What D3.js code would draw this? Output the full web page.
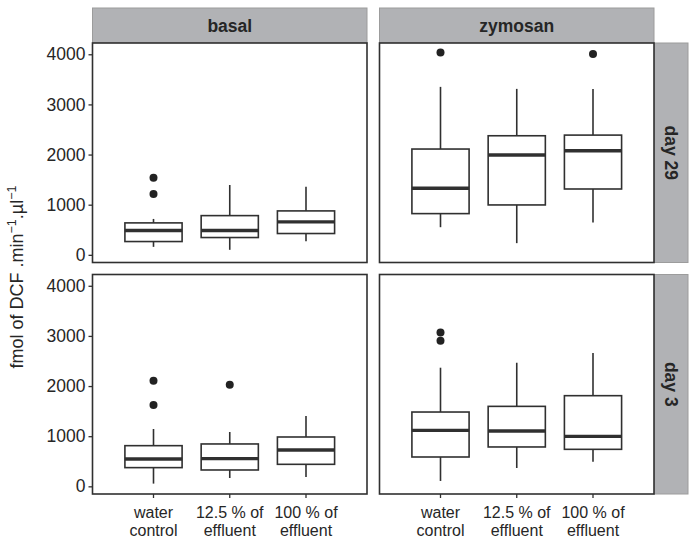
<!DOCTYPE html>
<html><head><meta charset="utf-8">
<script src="https://cdn.jsdelivr.net/npm/d3@7"></script>
<style>body{margin:0;background:#fff;} svg{display:block;font-family:"Liberation Sans",Arial,sans-serif;}</style>
</head><body>
<svg id="c" width="691" height="541"></svg>
<script>
const categories = ["water control", "12.5 % of effluent", "100 % of effluent"];
const catLines = [["water", "control"], ["12.5 % of", "effluent"], ["100 % of", "effluent"]];
const treatments = ["basal", "zymosan"];
const days = ["day 29", "day 3"];
const yTicks = [0, 1000, 2000, 3000, 4000];
// box stats per panel: [lowerWhisker, Q1, median, Q3, upperWhisker]
const basalDay29 = [[159, 265, 484, 637, 716], [100, 345, 484, 782, 1393], [272, 425, 657, 876, 1360]];
const basalDay29Out = [[1539, 1214], [], []];
const zymosanDay29 = [[551, 822, 1327, 2110, 3350], [233, 995, 1990, 2375, 3310], [643, 1313, 2076, 2388, 3310]];
const zymosanDay29Out = [[4034], [], [4006]];
const basalDay3 = [[54, 373, 546, 811, 1144], [166, 326, 552, 845, 1084], [186, 439, 725, 984, 1403]];
const basalDay3Out = [[2107, 1622], [2027], []];
const zymosanDay3 = [[107, 585, 1117, 1482, 2366], [366, 785, 1104, 1595, 2465], [492, 738, 997, 1808, 2658]];
const zymosanDay3Out = [[3070, 2904], [], []];

const panels = [
  {row: 0, col: 0, stats: basalDay29, out: basalDay29Out},
  {row: 0, col: 1, stats: zymosanDay29, out: zymosanDay29Out},
  {row: 1, col: 0, stats: basalDay3, out: basalDay3Out},
  {row: 1, col: 1, stats: zymosanDay3, out: zymosanDay3Out}
];

const svg = d3.select("#c");
const colX = [92.5, 379.5], panelW = 274.5;
const rowY = [43, 274.5], panelH = 219.5;
const stripTop = 8, stripR = 34;
const ink = "#303030", txt = "#262626";
const fs = 17.5;

const y = d3.scaleLinear().domain([-153, 4225]);
const x = d3.scaleBand().domain(categories).paddingInner(0.25).paddingOuter(0.425);

// top strips
treatments.forEach((t, i) => {
  svg.append("rect").attr("x", colX[i]).attr("y", stripTop).attr("width", panelW).attr("height", rowY[0] - stripTop)
    .attr("fill", "#b1b2b5").attr("stroke", "#9c9c9c").attr("stroke-width", 1);
  svg.append("text").attr("x", colX[i] + panelW / 2).attr("y", stripTop + (rowY[0] - stripTop) / 2 + 6)
    .attr("text-anchor", "middle").attr("font-size", fs).attr("font-weight", "bold").attr("fill", txt).text(t);
});
// right strips
days.forEach((d, i) => {
  const sx = colX[1] + panelW;
  svg.append("rect").attr("x", sx).attr("y", rowY[i]).attr("width", stripR).attr("height", panelH)
    .attr("fill", "#b1b2b5").attr("stroke", "#9c9c9c").attr("stroke-width", 1);
  svg.append("text").attr("transform", `translate(${sx + stripR / 2 - 6},${rowY[i] + panelH / 2}) rotate(90)`)
    .attr("text-anchor", "middle").attr("font-size", fs).attr("font-weight", "bold").attr("fill", txt).text(d);
});

panels.forEach(p => {
  const g = svg.append("g").attr("transform", `translate(${colX[p.col]},${rowY[p.row]})`);
  const ys = y.copy().range([panelH, 0]);
  const xs = x.copy().range([0, panelW]);
  g.append("rect").attr("width", panelW).attr("height", panelH).attr("fill", "#fff");
  categories.forEach((c, i) => {
    const s = p.stats[i];
    const cx = xs(c) + xs.bandwidth() / 2;
    g.append("line").attr("x1", cx).attr("x2", cx).attr("y1", ys(s[0])).attr("y2", ys(s[1]))
      .attr("stroke", ink).attr("stroke-width", 1.6);
    g.append("line").attr("x1", cx).attr("x2", cx).attr("y1", ys(s[3])).attr("y2", ys(s[4]))
      .attr("stroke", ink).attr("stroke-width", 1.6);
    g.append("rect").attr("x", xs(c)).attr("width", xs.bandwidth()).attr("y", ys(s[3])).attr("height", ys(s[1]) - ys(s[3]))
      .attr("fill", "#fff").attr("stroke", ink).attr("stroke-width", 1.6);
    g.append("line").attr("x1", xs(c)).attr("x2", xs(c) + xs.bandwidth()).attr("y1", ys(s[2])).attr("y2", ys(s[2]))
      .attr("stroke", ink).attr("stroke-width", 3.4);
    p.out[i].forEach(v => {
      g.append("circle").attr("cx", cx).attr("cy", ys(v)).attr("r", 4).attr("fill", "#222");
    });
  });
  g.append("rect").attr("width", panelW).attr("height", panelH).attr("fill", "none").attr("stroke", ink).attr("stroke-width", 1.6);
  if (p.col === 0) {
    const ax = g.append("g").call(d3.axisLeft(ys).tickValues(yTicks).tickSize(4).tickPadding(3).tickFormat(d3.format("d")));
    ax.select(".domain").remove();
    ax.selectAll("line").attr("stroke", ink).attr("stroke-width", 1.3);
    ax.selectAll("text").attr("font-size", fs).attr("fill", txt).attr("font-family", "Liberation Sans, Arial, sans-serif");
  }
  if (p.row === 1) {
    const ax = g.append("g").attr("transform", `translate(0,${panelH})`)
      .call(d3.axisBottom(xs).tickSize(4).tickFormat(""));
    ax.select(".domain").remove();
    ax.selectAll("line").attr("stroke", ink).attr("stroke-width", 1.3);
    categories.forEach((c, i) => {
      const t = g.append("text").attr("x", xs(c) + xs.bandwidth() / 2).attr("y", panelH + 24)
        .attr("text-anchor", "middle").attr("font-size", 16).attr("fill", txt);
      catLines[i].forEach((ln, k) => t.append("tspan").attr("x", xs(c) + xs.bandwidth() / 2).attr("dy", k === 0 ? 0 : 18).text(ln));
    });
  }
});

// y axis title
const yl = svg.append("text").attr("transform", "translate(23,277) rotate(-90)").attr("text-anchor", "middle")
  .attr("font-size", 18).attr("fill", txt);
yl.append("tspan").text("fmol of DCF .min");
yl.append("tspan").attr("dy", -7).attr("font-size", 12.5).text("−1");
yl.append("tspan").attr("dy", 7).text(".µl");
yl.append("tspan").attr("dy", -7).attr("font-size", 12.5).text("−1");
</script>
</body></html>
